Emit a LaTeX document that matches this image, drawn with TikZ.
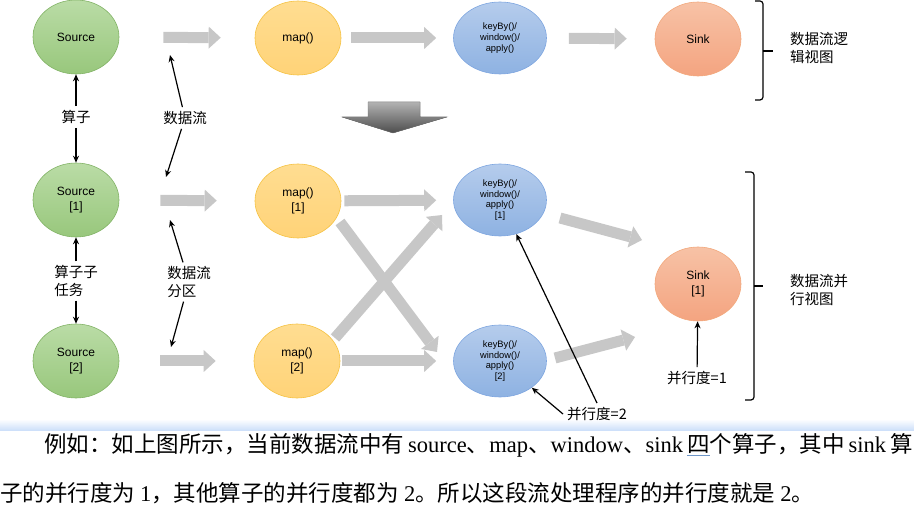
\documentclass[tikz,border=0pt]{standalone}
\usepackage{fontspec}
\setmainfont{Liberation Sans}
\newfontfamily\cjk{Noto Sans CJK SC}
\newfontfamily\serif{Liberation Serif}
\usepackage{xcolor}
\usepackage{tikz}
\usetikzlibrary{shapes.geometric}
\usetikzlibrary{arrows.meta}
\usetikzlibrary{calc}

\definecolor{srctop}{RGB}{186,220,166}
\definecolor{srcbot}{RGB}{152,199,124}
\definecolor{srcline}{RGB}{130,179,102}
\definecolor{maptop}{RGB}{255,221,145}
\definecolor{mapbot}{RGB}{255,211,120}
\definecolor{mapline}{RGB}{245,194,66}
\definecolor{wintop}{RGB}{181,204,236}
\definecolor{winbot}{RGB}{142,178,226}
\definecolor{winline}{RGB}{126,166,224}
\definecolor{snktop}{RGB}{247,194,166}
\definecolor{snkbot}{RGB}{244,164,128}
\definecolor{snkline}{RGB}{242,168,124}
\definecolor{flowgray}{RGB}{199,199,199}
\definecolor{bandblue}{RGB}{206,224,250}
\definecolor{uline}{RGB}{110,150,200}

\tikzset{
    op/.style = {ellipse, draw, line width=0.6pt, inner sep=0pt,
        minimum width=86pt, minimum height=74pt, align=center,
        font=\fontsize{12}{15}\selectfont},
    src/.style = {op, draw=srcline, top color=srctop, bottom color=srcbot},
    mapop/.style = {op, draw=mapline, top color=maptop, bottom color=mapbot},
    win/.style = {op, draw=winline, top color=wintop, bottom color=winbot,
        minimum width=93pt, minimum height=72pt,
        font=\fontsize{9.3}{10.8}\selectfont},
    snk/.style = {op, draw=snkline, top color=snktop, bottom color=snkbot},
    flow/.style = {draw=flowgray, line width=11pt,
        -{Triangle[length=12pt, width=22pt, line width=0pt]}},
    ptr/.style = {draw=black, line width=1.2pt, -{Stealth[length=7pt, width=6pt]}},
    lab/.style = {font=\cjk\fontsize{14.5}{17.5}\selectfont, align=left, inner sep=4pt},
    brc/.style = {draw=black, line width=1.2pt, rounded corners=3pt},
    para/.style = {anchor=west, inner sep=0pt, font=\cjk\fontsize{22.5}{26}\selectfont}
}

\begin{document}
\begin{tikzpicture}[x=1pt, y=-1pt]
    \useasboundingbox (0, 0) rectangle (914, 505);

    % page band
    \shade[top color=white, bottom color=bandblue] (0, 419) rectangle (914, 430);

    % logical view
    \node[src] (s) at (76, 37) {Source};
    \node[mapop] (m) at (298, 38) {map()};
    \node[win] (k) at (500, 38) {keyBy()/\\window()/\\apply()};
    \node[snk] (t) at (698, 39) {Sink};

    \draw[flow, shorten <=44pt, shorten >=34pt] (s) -- (m);
    \draw[flow, shorten <=10pt, shorten >=17pt] (m) -- (k);
    \draw[flow, shorten <=22pt, shorten >=28pt] (k) -- (t);

    % big arrow down
    \filldraw[draw=black!55, top color=black!30, bottom color=black!70]
        (368, 102) -- (420, 102) -- (420, 117) -- (447, 117) -- (393, 133)
        -- (342, 117) -- (368, 117) -- cycle;

    % parallel view
    \node[src] (s1) at (76, 200) {Source\\{[1]}};
    \node[src] (s2) at (76, 361) {Source\\{[2]}};
    \node[mapop] (m1) at (298, 201) {map()\\{[1]}};
    \node[mapop] (m2) at (297, 361) {map()\\{[2]}};
    \node[win] (k1) at (500, 200) {keyBy()/\\window()/\\apply()\\{[1]}};
    \node[win] (k2) at (500, 361) {keyBy()/\\window()/\\apply()\\{[2]}};
    \node[snk] (t1) at (698, 284) {Sink\\{[1]}};

    \draw[flow, shorten <=41pt, shorten >=38pt] (s1) -- (m1);
    \draw[flow, shorten <=41pt, shorten >=38pt] (s2) -- (m2);
    \draw[flow, shorten <=3pt, shorten >=17pt] (m1) -- (k1);
    \draw[flow, shorten <=2pt, shorten >=17pt] (m2) -- (k2);
    \draw[flow] ($(m1)+(42, 21)$) -- ($(k2)+(-63, -9)$);
    \draw[flow] ($(m2)+(38, -23)$) -- ($(k1)+(-58, 15)$);
    \draw[flow] ($(k1)+(60, 18)$) -- ($(t1)+(-56, -44)$);
    \draw[flow] ($(k2)+(55, -3)$) -- ($(t1)+(-63, 53)$);

    % labels
    \coordinate (f1) at (170, 55);
    \coordinate (f2) at (166, 177);
    \coordinate (f3) at (170, 220);
    \coordinate (f4) at (171, 347);

    \node[lab] (op) at (76, 117) {算子};
    \node[lab] (ds) at (185, 118) {数据流};
    \node[lab] (sub) at (76, 281) {算子子\\任务};
    \node[lab] (part) at (189, 282) {数据流\\分区};
    \node[lab] (p2) at (597, 414) {并行度=2};
    \node[lab] (p1) at (697, 378) {并行度=1};

    \draw[ptr] (op) -- (s);
    \draw[ptr] (op) -- (s1);
    \draw[ptr] (ds) -- (f1);
    \draw[ptr] (ds) -- (f2);
    \draw[ptr] (sub) -- (s1);
    \draw[ptr] (sub) -- (s2);
    \draw[ptr] (part) -- (f3);
    \draw[ptr] (part) -- (f4);
    \draw[ptr] (p2.north) -- (k1);
    \draw[ptr] (p2.west) -- (k2);
    \draw[ptr] (p1) -- (t1);

    % braces
    \draw[brc] (755, 1) -| (763, 100) -- (755, 100);
    \draw[brc] (763, 51) -- (773, 51);
    \draw[brc] (745, 172) -| (754, 400) -- (745, 400);
    \draw[brc] (754, 286) -- (763, 286);
    \node[lab, anchor=west, inner sep=0pt] (lv) at (790, 48) {数据流逻\\辑视图};
    \node[lab, anchor=west, inner sep=0pt] (pv) at (790, 290) {数据流并\\行视图};

    % text below
    \node[para] (l1) at (44, 445) {例如：如上图所示，当前数据流中有\hspace{4pt}{\serif source}、{\serif map}、{\serif window}、{\serif sink}\hspace{4pt}\makebox[0pt][l]{\color{uline}\rule[-4pt]{1em}{0.8pt}}四个算子，其中\hspace{4pt}{\serif sink}\hspace{4pt}算};
    \node[para] (l2) at (0, 493) {子的并行度为 {\serif 1}，其他算子的并行度都为 {\serif 2}。所以这段流处理程序的并行度就是 {\serif 2}。};
\end{tikzpicture}
\end{document}
